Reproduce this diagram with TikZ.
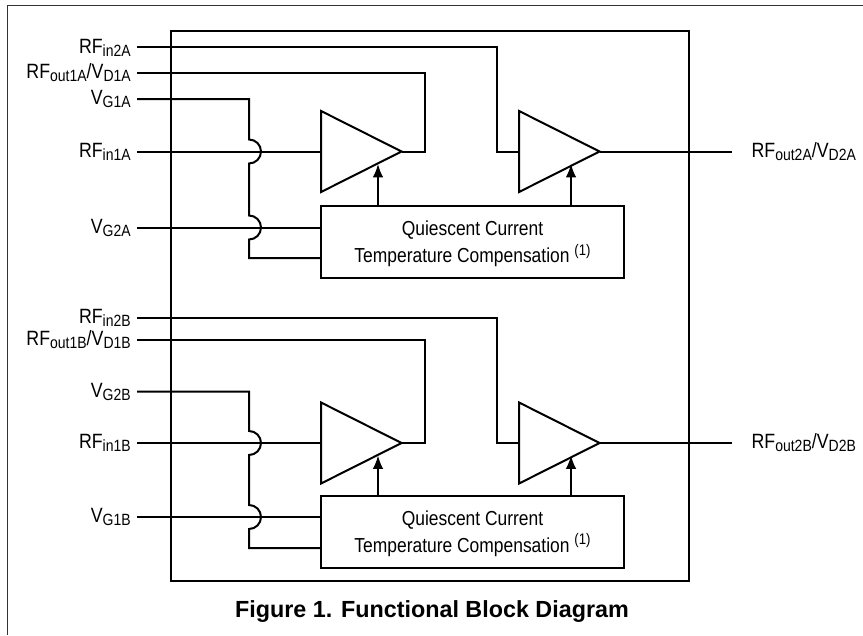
\documentclass[tikz,border=0pt]{standalone}
\usepackage{fontspec}
\setmainfont[FakeStretch=0.86]{Liberation Sans}
\newfontfamily\titlefont{Liberation Sans}
\usetikzlibrary{shapes.geometric,arrows.meta}
\newcommand{\pinlow}[1]{\raisebox{-0.28ex}{\fontsize{12.2}{12.2}\selectfont #1}}
\newcommand{\comptext}{\rule{0pt}{14pt}Quiescent Current\\Temperature Compensation \raisebox{0.7ex}{\fontsize{11.5}{11.5}\selectfont (1)}}
\tikzset{
    wire/.style={line width=1.5pt},
    pinname/.style={inner xsep=4.5pt,inner ysep=0pt,font=\fontsize{15.5}{15.5}\selectfont},
    pinleft/.style={pinname,anchor=east},
    pinright/.style={pinname,anchor=west},
    amp/.style={draw,line width=1.5pt,isosceles triangle,isosceles triangle stretches,
        anchor=lower side,minimum width=60.8pt,minimum height=60.4pt,inner sep=0pt,outer sep=0pt},
    comp/.style={draw,line width=1.5pt,minimum width=227.25pt,minimum height=54pt,align=center,
        inner sep=0pt,outer sep=0pt,font=\fontsize{15.2}{20.5}\selectfont},
    hop/.style={start angle=90,end angle=-90,radius=9pt},
    bias/.style={wire,-{Latex[length=10pt,width=8pt]}}
}
\begin{document}
\begin{tikzpicture}[x=0.75pt,y=-0.75pt]
    \useasboundingbox (0,0) rectangle (863,635);
    % page frame and package
    \coordinate (framea) at (7.5,635);
    \coordinate (frameb) at (7.5,5.5);
    \coordinate (framec) at (863,5.5);
    \draw[line width=0.8pt,black!80] (framea) -- (frameb) -- (framec);
    \node[draw,line width=1.5pt,minimum width=388.5pt,minimum height=412.5pt,inner sep=0pt,outer sep=0pt] (chip) at (430,306) {};

    % upper half
    \node[amp] (ampA1) at (321,151.5) {};
    \node[amp] (ampA2) at (519,151.5) {};
    \node[comp] (compA) at (472.5,242) {\comptext};
    \node[pinleft] (inA2) at (137,47.5) {RF\pinlow{in2A}};
    \node[pinleft] (outA1) at (137,73) {RF\pinlow{out1A}/V\pinlow{D1A}};
    \node[pinleft] (gA1) at (137,99) {V\pinlow{G1A}};
    \node[pinleft] (inA1) at (137,151.5) {RF\pinlow{in1A}};
    \node[pinleft] (gA2) at (137,228) {V\pinlow{G2A}};
    \node[pinright] (outA2) at (732,151.5) {\hspace{10pt}RF\pinlow{out2A}/V\pinlow{D2A}};
    \coordinate (railA) at (249,258);
    \coordinate (tipA1) at (378,164);
    \coordinate (tipA2) at (571,164);

    \draw[wire] (inA2.east) -- (497,47.5) -- (497,151.5) -- (ampA2.lower side);
    \draw[wire] (outA1.east) -- (425,73) -- (425,151.5) -- (ampA1.apex);
    \draw[wire] (gA1.east) -- (249,99) -- (249,139.5) arc[hop] -- (249,215.5) arc[hop] -- (railA) -- (railA -| compA.west);
    \draw[wire] (inA1.east) -- (ampA1.lower side);
    \draw[wire] (gA2.east) -- (gA2.east -| compA.west);
    \draw[wire] (ampA2.apex) -- (outA2.west);
    \draw[bias] (compA.north -| tipA1) -- (tipA1);
    \draw[bias] (compA.north -| tipA2) -- (tipA2);

    % lower half
    \node[amp] (ampB1) at (321,443) {};
    \node[amp] (ampB2) at (519,443) {};
    \node[comp] (compB) at (472.5,531.5) {\comptext};
    \node[pinleft] (inB2) at (137,318) {RF\pinlow{in2B}};
    \node[pinleft] (outB1) at (137,339.5) {RF\pinlow{out1B}/V\pinlow{D1B}};
    \node[pinleft] (gB2) at (137,391.5) {V\pinlow{G2B}};
    \node[pinleft] (inB1) at (137,443) {RF\pinlow{in1B}};
    \node[pinleft] (gB1) at (137,517) {V\pinlow{G1B}};
    \node[pinright] (outB2) at (732,443) {\hspace{10pt}RF\pinlow{out2B}/V\pinlow{D2B}};
    \coordinate (railB) at (249,548);
    \coordinate (tipB1) at (378,455.5);
    \coordinate (tipB2) at (571,455.5);

    \draw[wire] (inB2.east) -- (497,318) -- (497,443) -- (ampB2.lower side);
    \draw[wire] (outB1.east) -- (425,339.5) -- (425,443) -- (ampB1.apex);
    \draw[wire] (gB2.east) -- (249,391.5) -- (249,431) arc[hop] -- (249,505) arc[hop] -- (railB) -- (railB -| compB.west);
    \draw[wire] (inB1.east) -- (ampB1.lower side);
    \draw[wire] (gB1.east) -- (gB1.east -| compB.west);
    \draw[wire] (ampB2.apex) -- (outB2.west);
    \draw[bias] (compB.north -| tipB1) -- (tipB1);
    \draw[bias] (compB.north -| tipB2) -- (tipB2);

    \node[font=\titlefont\bfseries\fontsize{17.5}{17.5}\selectfont] (caption) at (432,612) {Figure 1. Functional Block Diagram};
\end{tikzpicture}
\end{document}
